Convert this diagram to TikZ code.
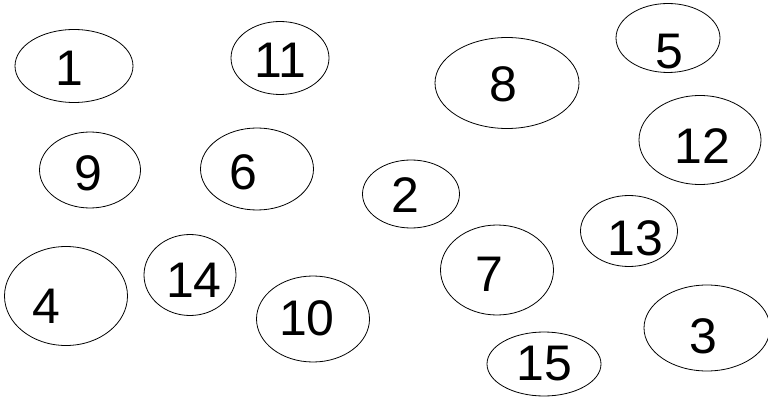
\documentclass[tikz,border=0pt]{standalone}
\usepackage{fontspec}
\setmainfont{Liberation Sans}
\usetikzlibrary{shapes.geometric}
\begin{document}
\begin{tikzpicture}[x=1pt,y=-1pt]
	% Styles
	\tikzstyle{bulle}=[ellipse,draw,line width=0.8pt,inner sep=0pt]
	\tikzstyle{chiffre}=[inner sep=0pt,font=\fontsize{50}{60}\selectfont]
	% Cadre
	\useasboundingbox (0,0) rectangle (768,398);
	% Bulles (centre, largeur, hauteur)
	\node[bulle,minimum width=118,minimum height=73] (E1) at (74,66) {};
	\node[bulle,minimum width=98,minimum height=73] (E11) at (280,58) {};
	\node[bulle,minimum width=144,minimum height=91] (E8) at (507,83) {};
	\node[bulle,minimum width=104,minimum height=69] (E5) at (668,38) {};
	\node[bulle,minimum width=122,minimum height=89] (E12) at (700,140) {};
	\node[bulle,minimum width=101,minimum height=76] (E9) at (90,170) {};
	\node[bulle,minimum width=113,minimum height=82] (E6) at (257,169) {};
	\node[bulle,minimum width=97,minimum height=68] (E2) at (411,194) {};
	\node[bulle,minimum width=97,minimum height=71] (E13) at (629,231) {};
	\node[bulle,minimum width=113,minimum height=90] (E7) at (497,270) {};
	\node[bulle,minimum width=92,minimum height=81] (E14) at (190,275) {};
	\node[bulle,minimum width=123,minimum height=99] (E4) at (66,296) {};
	\node[bulle,minimum width=113,minimum height=86] (E10) at (313,319) {};
	\node[bulle,minimum width=126,minimum height=86] (E3) at (707,328) {};
	\node[bulle,minimum width=114,minimum height=64] (E15) at (544,364) {};
	% Numeros
	\node[chiffre] (T1) at (69,68) {1};
	\node[chiffre] (T11) at (280,60) {11};
	\node[chiffre] (T8) at (503,84) {8};
	\node[chiffre] (T5) at (669,52) {5};
	\node[chiffre] (T12) at (702,146) {12};
	\node[chiffre] (T9) at (88,173) {9};
	\node[chiffre] (T6) at (243,172) {6};
	\node[chiffre] (T2) at (405,195) {2};
	\node[chiffre] (T13) at (635,238) {13};
	\node[chiffre] (T7) at (489,274) {7};
	\node[chiffre] (T14) at (194,280) {14};
	\node[chiffre] (T4) at (46,306) {4};
	\node[chiffre] (T10) at (307,318) {10};
	\node[chiffre] (T3) at (703,336) {3};
	\node[chiffre] (T15) at (544,364) {15};
\end{tikzpicture}
\end{document}
